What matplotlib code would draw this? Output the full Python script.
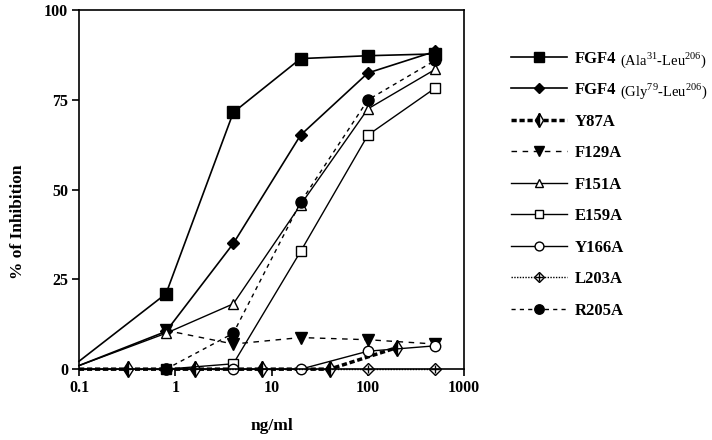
import numpy as np
import matplotlib
matplotlib.use('Agg')
import matplotlib.pyplot as plt
from matplotlib.lines import Line2D

plt.rcParams['font.family'] = 'Liberation Serif'
plt.rcParams['mathtext.fontset'] = 'custom'
plt.rcParams['mathtext.rm'] = 'Liberation Serif'
plt.rcParams['mathtext.bf'] = 'Liberation Serif:bold'

# 데이터 (ng/ml, % of Inhibition)
ala_x = [0.1, 0.8, 4, 20, 100, 500]
ala_y = [2.2, 21, 71.5, 86.5, 87.3, 87.8]

gly_x = [0.1, 0.8, 4, 20, 100, 500]
gly_y = [1.0, 10.5, 35, 65.2, 82.5, 88.5]

y87a_x = [0.1, 0.32, 1.6, 8, 40, 200]
y87a_y = [0, 0, 0, 0, 0, 6]

f129a_x = [0.8, 4, 20, 100, 500]
f129a_y = [10.8, 7.0, 8.8, 8.2, 7.0]

f151a_x = [0.1, 0.8, 4, 20, 100, 500]
f151a_y = [1.0, 10.0, 18.2, 45.8, 72.5, 83.5]

e159a_x = [0.8, 4, 20, 100, 500]
e159a_y = [0, 1.5, 32.8, 65.2, 78.3]

y166a_x = [0.1, 0.8, 4, 20, 100, 500]
y166a_y = [0, 0, 0, 0, 5.0, 6.5]

l203a_x = [0.1, 0.8, 4, 20, 100, 500]
l203a_y = [0, 0, 0, 0, 0, 0]
l203a_mk_x = [100, 500]
l203a_mk_y = [0, 0]

r205a_x = [0.8, 4, 20, 100, 500]
r205a_y = [0, 10.0, 46.5, 75.0, 86.0]

labels = ['FGF4', 'FGF4', 'Y87A', 'F129A', 'F151A', 'E159A', 'Y166A', 'L203A', 'R205A']
label_suffix = {0: r'(Ala$^{31}$-Leu$^{206}$)', 1: r'(Gly$^{79}$-Leu$^{206}$)'}

fig = plt.figure(figsize=(7.12, 4.4), dpi=100)
ax = fig.add_axes([0.111, 0.161, 0.541, 0.816])

# (x, y, linestyle, linewidth, marker, size, facecolor, fillstyle, markevery)
series = [
    (ala_x, ala_y, '-', 1.2, 's', 8, 'black', 'full', slice(1, None)),
    (gly_x, gly_y, '-', 1.2, 'D', 6.5, 'black', 'full', slice(1, None)),
    (y87a_x, y87a_y, (0, (1.5, 0.8)), 2.5, 'd', 8, 'black', 'left', slice(1, None)),
    (f129a_x, f129a_y, (0, (4, 4)), 1.0, 'v', 8, 'black', 'full', None),
    (f151a_x, f151a_y, '-', 1.0, '^', 7, 'white', 'full', slice(1, None)),
    (e159a_x, e159a_y, '-', 1.0, 's', 7, 'white', 'full', None),
    (y166a_x, y166a_y, '-', 1.0, 'o', 7.5, 'white', 'full', slice(1, None)),
    (l203a_x, l203a_y, (0, (1, 1)), 1.0, 'None', 0, 'white', 'full', None),
    (r205a_x, r205a_y, (0, (3, 3)), 1.0, 'o', 8, 'black', 'full', None),
]

handles = []
for x, y, ls, lw, mk, ms, fc, fs, me in series:
    h, = ax.plot(x, y, linestyle=ls, linewidth=lw, color='black', marker=mk,
                 markersize=ms, markerfacecolor=fc, markeredgecolor='black',
                 fillstyle=fs, markerfacecoloralt='white', markevery=me,
                 markeredgewidth=1.0, clip_on=False)
    handles.append(h)

# L203A 마커 (십자 다이아몬드)
ax.plot(l203a_mk_x, l203a_mk_y, linestyle='none', marker='D', markersize=6,
        markerfacecolor='white', markeredgecolor='black', clip_on=False)
ax.plot(l203a_mk_x, l203a_mk_y, linestyle='none', marker='+', markersize=6,
        markeredgecolor='black', clip_on=False)

ax.set_xscale('log')
ax.set_xlim(0.1, 1000)
ax.set_ylim(0, 100)
ax.set_xticks([0.1, 1, 10, 100, 1000])
ax.set_xticklabels(['0.1', '1', '10', '100', '1000'])
ax.set_yticks([0, 25, 50, 75, 100])
ax.minorticks_off()
ax.tick_params(direction='out', length=5, width=1.2, labelsize=11.5, pad=3)
for lab in ax.get_xticklabels() + ax.get_yticklabels():
    lab.set_fontweight('bold')
for sp in ax.spines.values():
    sp.set_linewidth(1.2)

ax.set_xlabel('ng/ml', fontsize=12.5, fontweight='bold', labelpad=16)
ax.set_ylabel('% of Inhibition', fontsize=12.5, fontweight='bold')
ax.yaxis.set_label_coords(-0.138, 0.41)

# 범례용 L203A 핸들 (선 + 십자 다이아몬드)
l203_line = Line2D([], [], linestyle=(0, (1, 1)), linewidth=1.0, color='black',
                   marker='D', markersize=6, markerfacecolor='white',
                   markeredgecolor='black')
l203_cross = Line2D([], [], linestyle='none', marker='+', markersize=6,
                    markeredgecolor='black')
handles[7] = (l203_line, l203_cross)

leg = fig.legend(handles, labels, loc='upper left', bbox_to_anchor=(0.708, 0.90),
                 frameon=False, handlelength=3.4, labelspacing=0.93,
                 handletextpad=0.45, borderaxespad=0, markerscale=0.85,
                 prop={'weight': 'bold', 'size': 12})

# FGF4 라벨 뒤에 작은 글씨 괄호 부분 추가
fig.canvas.draw()
renderer = fig.canvas.get_renderer()
inv = fig.transFigure.inverted()
for i, suffix in label_suffix.items():
    bb = leg.get_texts()[i].get_window_extent(renderer)
    x0, y0 = inv.transform((bb.x1 + 4, bb.y0 + 2))
    fig.text(x0, y0, suffix, fontsize=10.5, ha='left', va='baseline')

fig.savefig('out.png', dpi=100)
